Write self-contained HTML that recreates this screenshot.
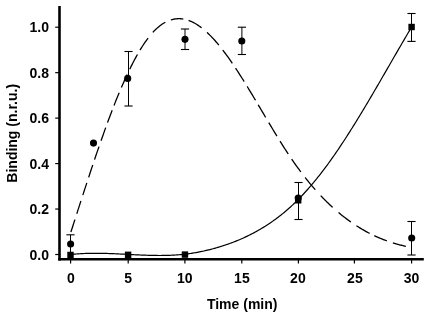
<!DOCTYPE html>
<html><head><meta charset="utf-8"><style>
html,body{margin:0;padding:0;background:#fff;}
svg{display:block;will-change:transform;}
</style></head><body>
<svg width="437" height="317" viewBox="0 0 437 317">
<rect width="437" height="317" fill="#fff"/>
<line x1="59.5" y1="6" x2="59.5" y2="260.6" stroke="#000" stroke-width="2.6"/>
<line x1="58.2" y1="259.3" x2="423.8" y2="259.3" stroke="#000" stroke-width="2.6"/>
<line x1="55.2" y1="254.50" x2="59.5" y2="254.50" stroke="#000" stroke-width="1.2"/>
<text x="49" y="259.60" text-anchor="end" font-family="Liberation Sans" font-weight="bold" font-size="14">0.0</text>
<line x1="55.2" y1="209.04" x2="59.5" y2="209.04" stroke="#000" stroke-width="1.2"/>
<text x="49" y="214.14" text-anchor="end" font-family="Liberation Sans" font-weight="bold" font-size="14">0.2</text>
<line x1="55.2" y1="163.58" x2="59.5" y2="163.58" stroke="#000" stroke-width="1.2"/>
<text x="49" y="168.68" text-anchor="end" font-family="Liberation Sans" font-weight="bold" font-size="14">0.4</text>
<line x1="55.2" y1="118.12" x2="59.5" y2="118.12" stroke="#000" stroke-width="1.2"/>
<text x="49" y="123.22" text-anchor="end" font-family="Liberation Sans" font-weight="bold" font-size="14">0.6</text>
<line x1="55.2" y1="72.66" x2="59.5" y2="72.66" stroke="#000" stroke-width="1.2"/>
<text x="49" y="77.76" text-anchor="end" font-family="Liberation Sans" font-weight="bold" font-size="14">0.8</text>
<line x1="55.2" y1="27.20" x2="59.5" y2="27.20" stroke="#000" stroke-width="1.2"/>
<text x="49" y="32.30" text-anchor="end" font-family="Liberation Sans" font-weight="bold" font-size="14">1.0</text>
<line x1="70.60" y1="259.3" x2="70.60" y2="263.6" stroke="#000" stroke-width="1.2"/>
<text x="70.85" y="283.2" text-anchor="middle" font-family="Liberation Sans" font-weight="bold" font-size="14">0</text>
<line x1="128.20" y1="259.3" x2="128.20" y2="263.6" stroke="#000" stroke-width="1.2"/>
<text x="128.10" y="283.2" text-anchor="middle" font-family="Liberation Sans" font-weight="bold" font-size="14">5</text>
<line x1="184.90" y1="259.3" x2="184.90" y2="263.6" stroke="#000" stroke-width="1.2"/>
<text x="184.75" y="283.2" text-anchor="middle" font-family="Liberation Sans" font-weight="bold" font-size="14">10</text>
<line x1="241.80" y1="259.3" x2="241.80" y2="263.6" stroke="#000" stroke-width="1.2"/>
<text x="241.90" y="283.2" text-anchor="middle" font-family="Liberation Sans" font-weight="bold" font-size="14">15</text>
<line x1="298.40" y1="259.3" x2="298.40" y2="263.6" stroke="#000" stroke-width="1.2"/>
<text x="297.90" y="283.2" text-anchor="middle" font-family="Liberation Sans" font-weight="bold" font-size="14">20</text>
<line x1="354.40" y1="259.3" x2="354.40" y2="263.6" stroke="#000" stroke-width="1.2"/>
<text x="354.90" y="283.2" text-anchor="middle" font-family="Liberation Sans" font-weight="bold" font-size="14">25</text>
<line x1="411.60" y1="259.3" x2="411.60" y2="263.6" stroke="#000" stroke-width="1.2"/>
<text x="411.60" y="283.2" text-anchor="middle" font-family="Liberation Sans" font-weight="bold" font-size="14">30</text>
<text x="242.2" y="308.6" text-anchor="middle" font-family="Liberation Sans" font-weight="bold" font-size="14">Time (min)</text>
<text transform="translate(17.2,133.3) rotate(-90)" x="0" y="0" text-anchor="middle" font-family="Liberation Sans" font-weight="bold" font-size="14">Binding (n.r.u.)</text>
<path d="M70.50,233.22 L71.30,230.76 L72.21,227.95 L73.00,225.49 L73.91,222.67 L74.71,220.21 L75.62,217.39 L76.41,214.92 L77.32,212.11 L78.12,209.64 L79.03,206.83 L79.83,204.37 L80.74,201.56 L81.53,199.10 L82.44,196.30 L83.24,193.85 L84.15,191.06 L84.94,188.62 L85.85,185.83 L86.65,183.40 L87.56,180.63 L88.36,178.21 L89.27,175.45 L90.06,173.05 L90.97,170.31 L91.77,167.91 L92.68,165.19 L93.48,162.82 L94.38,160.11 L95.18,157.76 L96.09,155.08 L97.00,152.41 L97.80,150.09 L98.71,147.44 L99.50,145.14 L100.41,142.52 L101.21,140.25 L102.12,137.66 L102.92,135.41 L103.83,132.85 L104.62,130.63 L105.53,128.10 L106.33,125.91 L107.24,123.42 L108.03,121.26 L108.94,118.80 L109.74,116.67 L110.65,114.26 L111.45,112.16 L112.36,109.79 L113.15,107.73 L114.06,105.40 L114.86,103.38 L115.77,101.09 L116.56,99.11 L117.47,96.87 L118.27,94.92 L119.18,92.73 L119.98,90.83 L120.89,88.68 L121.68,86.82 L122.59,84.72 L123.50,82.65 L124.30,80.86 L125.21,78.84 L126.00,77.09 L126.91,75.12 L127.71,73.42 L128.62,71.51 L129.42,69.86 L130.33,67.99 L131.12,66.39 L132.03,64.59 L132.83,63.03 L133.74,61.29 L134.53,59.78 L135.44,58.10 L136.24,56.65 L137.15,55.02 L137.95,53.62 L138.86,52.05 L139.65,50.71 L140.56,49.21 L141.36,47.92 L142.27,46.48 L143.06,45.25 L143.97,43.87 L144.77,42.70 L145.68,41.39 L146.48,40.28 L147.39,39.03 L148.18,37.98 L149.09,36.81 L150.00,35.67 L150.80,34.71 L151.71,33.65 L152.51,32.75 L153.41,31.76 L154.21,30.92 L155.12,30.00 L155.92,29.23 L156.83,28.38 L157.62,27.67 L158.53,26.90 L159.33,26.25 L160.24,25.54 L161.04,24.95 L161.95,24.31 L162.74,23.78 L163.65,23.20 L164.45,22.73 L165.36,22.22 L166.15,21.81 L167.06,21.37 L167.86,21.01 L168.77,20.64 L169.57,20.33 L170.48,20.02 L171.27,19.78 L172.18,19.53 L172.98,19.33 L173.89,19.15 L174.68,19.01 L175.59,18.88 L176.50,18.79 L177.30,18.73 L178.21,18.69 L179.01,18.69 L179.92,18.71 L180.71,18.76 L181.62,18.84 L182.42,18.93 L183.33,19.07 L184.12,19.22 L185.03,19.41 L185.83,19.60 L186.74,19.85 L187.54,20.09 L188.45,20.39 L189.24,20.68 L190.15,21.04 L190.95,21.37 L191.86,21.78 L192.65,22.16 L193.56,22.61 L194.36,23.04 L195.27,23.55 L196.07,24.01 L196.98,24.57 L197.77,25.08 L198.68,25.69 L199.48,26.24 L200.39,26.89 L201.18,27.48 L202.09,28.18 L203.00,28.91 L203.80,29.56 L204.71,30.33 L205.51,31.03 L206.42,31.84 L207.21,32.57 L208.12,33.43 L208.92,34.20 L209.83,35.10 L210.63,35.90 L211.54,36.84 L212.33,37.68 L213.24,38.66 L214.04,39.53 L214.95,40.55 L215.74,41.46 L216.65,42.51 L217.45,43.45 L218.36,44.54 L219.16,45.51 L220.07,46.63 L220.86,47.62 L221.77,48.78 L222.57,49.80 L223.48,50.99 L224.27,52.04 L225.18,53.26 L225.98,54.34 L226.89,55.58 L227.69,56.68 L228.60,57.95 L229.51,59.24 L230.30,60.38 L231.21,61.69 L232.01,62.85 L232.92,64.18 L233.71,65.36 L234.62,66.72 L235.42,67.91 L236.33,69.29 L237.13,70.51 L238.04,71.91 L238.83,73.14 L239.74,74.56 L240.54,75.80 L241.45,77.24 L242.24,78.50 L243.15,79.95 L243.95,81.23 L244.86,82.69 L245.66,83.98 L246.57,85.46 L247.36,86.75 L248.27,88.24 L249.07,89.55 L249.98,91.05 L250.77,92.37 L251.68,93.88 L252.48,95.20 L253.39,96.72 L254.30,98.24 L255.10,99.57 L256.01,101.10 L256.80,102.43 L257.71,103.97 L258.51,105.31 L259.42,106.84 L260.21,108.18 L261.12,109.72 L261.92,111.06 L262.83,112.60 L263.63,113.94 L264.54,115.48 L265.33,116.82 L266.24,118.35 L267.04,119.69 L267.95,121.22 L268.75,122.56 L269.66,124.08 L270.45,125.41 L271.36,126.93 L272.16,128.26 L273.07,129.77 L273.86,131.08 L274.77,132.59 L275.57,133.89 L276.48,135.39 L277.28,136.69 L278.19,138.17 L278.98,139.45 L279.89,140.92 L280.80,142.38 L281.60,143.65 L282.51,145.09 L283.30,146.35 L284.21,147.78 L285.01,149.02 L285.92,150.43 L286.72,151.66 L287.63,153.05 L288.42,154.26 L289.33,155.63 L290.13,156.82 L291.04,158.17 L291.83,159.34 L292.74,160.66 L293.54,161.81 L294.45,163.12 L295.25,164.25 L296.16,165.53 L296.95,166.64 L297.86,167.89 L298.66,168.98 L299.57,170.22 L300.36,171.29 L301.27,172.50 L302.07,173.55 L302.98,174.74 L303.78,175.77 L304.69,176.94 L305.48,177.95 L306.39,179.10 L307.30,180.23 L308.10,181.21 L309.01,182.33 L309.80,183.29 L310.71,184.38 L311.51,185.33 L312.42,186.40 L313.22,187.32 L314.13,188.37 L314.92,189.28 L315.83,190.31 L316.63,191.20 L317.54,192.21 L318.33,193.08 L319.24,194.07 L320.04,194.92 L320.95,195.89 L321.75,196.73 L322.66,197.67 L323.45,198.49 L324.36,199.42 L325.16,200.22 L326.07,201.13 L326.87,201.91 L327.78,202.80 L328.57,203.57 L329.48,204.44 L330.28,205.19 L331.19,206.04 L331.98,206.77 L332.89,207.61 L333.80,208.43 L334.60,209.14 L335.51,209.94 L336.31,210.63 L337.22,211.41 L338.01,212.09 L338.92,212.86 L339.72,213.52 L340.63,214.27 L341.42,214.91 L342.33,215.64 L343.13,216.27 L344.04,216.98 L344.84,217.60 L345.75,218.29 L346.54,218.89 L347.45,219.57 L348.25,220.15 L349.16,220.81 L349.95,221.38 L350.86,222.03 L351.66,222.58 L352.57,223.21 L353.37,223.75 L354.28,224.36 L355.07,224.88 L355.98,225.48 L356.78,225.99 L357.69,226.57 L358.48,227.07 L359.39,227.63 L360.30,228.18 L361.10,228.66 L362.01,229.20 L362.81,229.66 L363.72,230.18 L364.51,230.63 L365.42,231.14 L366.22,231.57 L367.13,232.07 L367.92,232.49 L368.83,232.97 L369.63,233.38 L370.54,233.84 L371.34,234.24 L372.25,234.68 L373.04,235.07 L373.95,235.50 L374.75,235.88 L375.66,236.30 L376.45,236.66 L377.36,237.06 L378.16,237.41 L379.07,237.80 L379.87,238.14 L380.78,238.52 L381.57,238.84 L382.48,239.21 L383.28,239.52 L384.19,239.87 L384.99,240.18 L385.90,240.51 L386.81,240.85 L387.60,241.13 L388.51,241.45 L389.31,241.72 L390.22,242.03 L391.01,242.29 L391.92,242.59 L392.72,242.84 L393.63,243.12 L394.43,243.37 L395.34,243.64 L396.13,243.87 L397.04,244.13 L397.84,244.35 L398.75,244.60 L399.54,244.81 L400.45,245.04 L401.25,245.25 L402.16,245.47 L402.96,245.66 L403.87,245.88 L404.66,246.06 L405.57,246.26 L406.37,246.44 L407.28,246.63 L408.07,246.79 L408.98,246.98 L409.78,247.13 L410.69,247.31 L411.60,247.47" fill="none" stroke="#000" stroke-width="1.3" stroke-dasharray="0 1.24 13.05 6.18 13.41 6.16 12.93 5.73 13.07 5.64 13.78 6.19 13.92 5.31 13.23 5.09 13.88 5.67 14.00 6.06 16.63 5.05 14.49 7.41 16.21 5.95 12.60 5.47 15.00 7.11 17.39 6.30 16.30 5.90 15.88 5.76 16.17 5.23 14.61 6.12 15.73 5.98 15.25 6.11 15.82 6.97 15.88 8.09 16.72 7.80 15.66 6.62 15.29 5.18 13.65 6.28 13.48 55.83"/>
<path d="M70.60,254.52 L71.74,254.40 L72.88,254.28 L74.02,254.18 L75.16,254.08 L76.30,253.98 L77.44,253.90 L78.58,253.81 L79.72,253.74 L80.86,253.67 L82.00,253.61 L83.15,253.55 L84.29,253.50 L85.43,253.46 L86.57,253.42 L87.71,253.38 L88.85,253.36 L89.99,253.33 L91.13,253.31 L92.27,253.30 L93.41,253.29 L94.55,253.28 L95.69,253.28 L96.83,253.28 L97.97,253.29 L99.11,253.30 L100.25,253.32 L101.39,253.34 L102.53,253.36 L103.67,253.38 L104.81,253.41 L105.95,253.44 L107.09,253.47 L108.24,253.51 L109.38,253.55 L110.52,253.59 L111.66,253.63 L112.80,253.68 L113.94,253.72 L115.08,253.77 L116.22,253.82 L117.36,253.88 L118.50,253.93 L119.64,253.98 L120.78,254.04 L121.92,254.10 L123.06,254.15 L124.20,254.21 L125.34,254.27 L126.48,254.33 L127.62,254.39 L128.76,254.44 L129.90,254.50 L131.04,254.56 L132.19,254.62 L133.33,254.68 L134.47,254.73 L135.61,254.79 L136.75,254.84 L137.89,254.89 L139.03,254.95 L140.17,255.00 L141.31,255.05 L142.45,255.09 L143.59,255.14 L144.73,255.18 L145.87,255.22 L147.01,255.26 L148.15,255.29 L149.29,255.33 L150.43,255.36 L151.57,255.38 L152.71,255.41 L153.85,255.43 L154.99,255.45 L156.14,255.46 L157.28,255.47 L158.42,255.48 L159.56,255.48 L160.70,255.48 L161.84,255.47 L162.98,255.46 L164.12,255.45 L165.26,255.43 L166.40,255.40 L167.54,255.37 L168.68,255.34 L169.82,255.29 L170.96,255.25 L172.10,255.20 L173.24,255.14 L174.38,255.08 L175.52,255.01 L176.66,254.93 L177.80,254.85 L178.94,254.76 L180.08,254.67 L181.23,254.57 L182.37,254.46 L183.51,254.34 L184.65,254.22 L185.79,254.09 L186.93,253.95 L188.07,253.81 L189.21,253.65 L190.35,253.49 L191.49,253.32 L192.63,253.15 L193.77,252.96 L194.91,252.77 L196.05,252.57 L197.19,252.36 L198.33,252.15 L199.47,251.93 L200.61,251.70 L201.75,251.46 L202.89,251.22 L204.03,250.97 L205.18,250.71 L206.32,250.45 L207.46,250.18 L208.60,249.90 L209.74,249.62 L210.88,249.32 L212.02,249.03 L213.16,248.72 L214.30,248.41 L215.44,248.09 L216.58,247.77 L217.72,247.43 L218.86,247.10 L220.00,246.75 L221.14,246.40 L222.28,246.04 L223.42,245.67 L224.56,245.30 L225.70,244.92 L226.84,244.53 L227.98,244.13 L229.13,243.72 L230.27,243.31 L231.41,242.89 L232.55,242.46 L233.69,242.02 L234.83,241.58 L235.97,241.12 L237.11,240.66 L238.25,240.19 L239.39,239.71 L240.53,239.22 L241.67,238.72 L242.81,238.21 L243.95,237.69 L245.09,237.17 L246.23,236.63 L247.37,236.09 L248.51,235.53 L249.65,234.97 L250.79,234.39 L251.93,233.80 L253.07,233.21 L254.22,232.60 L255.36,231.99 L256.50,231.36 L257.64,230.72 L258.78,230.07 L259.92,229.41 L261.06,228.74 L262.20,228.06 L263.34,227.37 L264.48,226.66 L265.62,225.94 L266.76,225.22 L267.90,224.47 L269.04,223.72 L270.18,222.95 L271.32,222.17 L272.46,221.38 L273.60,220.57 L274.74,219.75 L275.88,218.92 L277.02,218.07 L278.17,217.20 L279.31,216.33 L280.45,215.44 L281.59,214.53 L282.73,213.61 L283.87,212.67 L285.01,211.72 L286.15,210.75 L287.29,209.77 L288.43,208.77 L289.57,207.75 L290.71,206.72 L291.85,205.67 L292.99,204.61 L294.13,203.53 L295.27,202.43 L296.41,201.31 L297.55,200.18 L298.69,199.03 L299.83,197.86 L300.97,196.67 L302.12,195.47 L303.26,194.26 L304.40,193.02 L305.54,191.77 L306.68,190.51 L307.82,189.23 L308.96,187.93 L310.10,186.61 L311.24,185.28 L312.38,183.94 L313.52,182.57 L314.66,181.20 L315.80,179.80 L316.94,178.40 L318.08,176.97 L319.22,175.53 L320.36,174.08 L321.50,172.61 L322.64,171.12 L323.78,169.62 L324.92,168.11 L326.06,166.58 L327.21,165.04 L328.35,163.48 L329.49,161.91 L330.63,160.32 L331.77,158.72 L332.91,157.10 L334.05,155.47 L335.19,153.83 L336.33,152.17 L337.47,150.50 L338.61,148.82 L339.75,147.12 L340.89,145.42 L342.03,143.70 L343.17,141.97 L344.31,140.23 L345.45,138.47 L346.59,136.71 L347.73,134.93 L348.87,133.15 L350.01,131.35 L351.16,129.55 L352.30,127.73 L353.44,125.91 L354.58,124.07 L355.72,122.23 L356.86,120.38 L358.00,118.52 L359.14,116.65 L360.28,114.78 L361.42,112.89 L362.56,111.00 L363.70,109.11 L364.84,107.20 L365.98,105.29 L367.12,103.37 L368.26,101.45 L369.40,99.52 L370.54,97.59 L371.68,95.65 L372.82,93.71 L373.96,91.76 L375.11,89.81 L376.25,87.85 L377.39,85.89 L378.53,83.93 L379.67,81.97 L380.81,80.00 L381.95,78.03 L383.09,76.06 L384.23,74.09 L385.37,72.11 L386.51,70.14 L387.65,68.16 L388.79,66.18 L389.93,64.20 L391.07,62.23 L392.21,60.25 L393.35,58.28 L394.49,56.30 L395.63,54.33 L396.77,52.36 L397.91,50.39 L399.05,48.42 L400.20,46.45 L401.34,44.49 L402.48,42.53 L403.62,40.58 L404.76,38.62 L405.90,36.68 L407.04,34.73 L408.18,32.79 L409.32,30.86 L410.46,28.93 L411.60,27.01" fill="none" stroke="#000" stroke-width="1.2"/>
<line x1="70.50" y1="234.80" x2="70.50" y2="252.50" stroke="#000" stroke-width="1"/><line x1="66.40" y1="234.80" x2="74.60" y2="234.80" stroke="#000" stroke-width="1.1"/>
<line x1="128.50" y1="51.50" x2="128.50" y2="106.00" stroke="#000" stroke-width="1"/><line x1="124.40" y1="51.50" x2="132.60" y2="51.50" stroke="#000" stroke-width="1.1"/><line x1="124.40" y1="106.00" x2="132.60" y2="106.00" stroke="#000" stroke-width="1.1"/>
<line x1="185.00" y1="29.00" x2="185.00" y2="49.50" stroke="#000" stroke-width="1"/><line x1="180.90" y1="29.00" x2="189.10" y2="29.00" stroke="#000" stroke-width="1.1"/><line x1="180.90" y1="49.50" x2="189.10" y2="49.50" stroke="#000" stroke-width="1.1"/>
<line x1="241.90" y1="27.20" x2="241.90" y2="54.50" stroke="#000" stroke-width="1"/><line x1="237.80" y1="27.20" x2="246.00" y2="27.20" stroke="#000" stroke-width="1.1"/><line x1="237.80" y1="54.50" x2="246.00" y2="54.50" stroke="#000" stroke-width="1.1"/>
<line x1="298.50" y1="182.50" x2="298.50" y2="219.50" stroke="#000" stroke-width="1"/><line x1="294.40" y1="182.50" x2="302.60" y2="182.50" stroke="#000" stroke-width="1.1"/><line x1="294.40" y1="219.50" x2="302.60" y2="219.50" stroke="#000" stroke-width="1.1"/>
<line x1="411.50" y1="221.50" x2="411.50" y2="255.00" stroke="#000" stroke-width="1"/><line x1="407.40" y1="221.50" x2="415.60" y2="221.50" stroke="#000" stroke-width="1.1"/><line x1="407.40" y1="255.00" x2="415.60" y2="255.00" stroke="#000" stroke-width="1.1"/>
<line x1="411.50" y1="13.50" x2="411.50" y2="41.40" stroke="#000" stroke-width="1"/><line x1="407.40" y1="13.50" x2="415.60" y2="13.50" stroke="#000" stroke-width="1.1"/><line x1="407.40" y1="41.40" x2="415.60" y2="41.40" stroke="#000" stroke-width="1.1"/>
<circle cx="70.60" cy="244.00" r="3.55" fill="#000"/>
<circle cx="93.50" cy="143.10" r="3.55" fill="#000"/>
<circle cx="127.70" cy="78.40" r="3.55" fill="#000"/>
<circle cx="185.00" cy="39.35" r="3.55" fill="#000"/>
<circle cx="241.80" cy="41.00" r="3.55" fill="#000"/>
<circle cx="298.20" cy="198.10" r="3.55" fill="#000"/>
<circle cx="411.70" cy="238.00" r="3.55" fill="#000"/>
<rect x="67.30" y="251.75" width="6.4" height="6.4" fill="#000"/>
<rect x="124.90" y="251.60" width="6.4" height="6.4" fill="#000"/>
<rect x="181.75" y="251.40" width="6.4" height="6.4" fill="#000"/>
<rect x="295.00" y="197.10" width="6.4" height="6.4" fill="#000"/>
<rect x="408.40" y="23.80" width="6.4" height="6.4" fill="#000"/>
</svg>
</body></html>
